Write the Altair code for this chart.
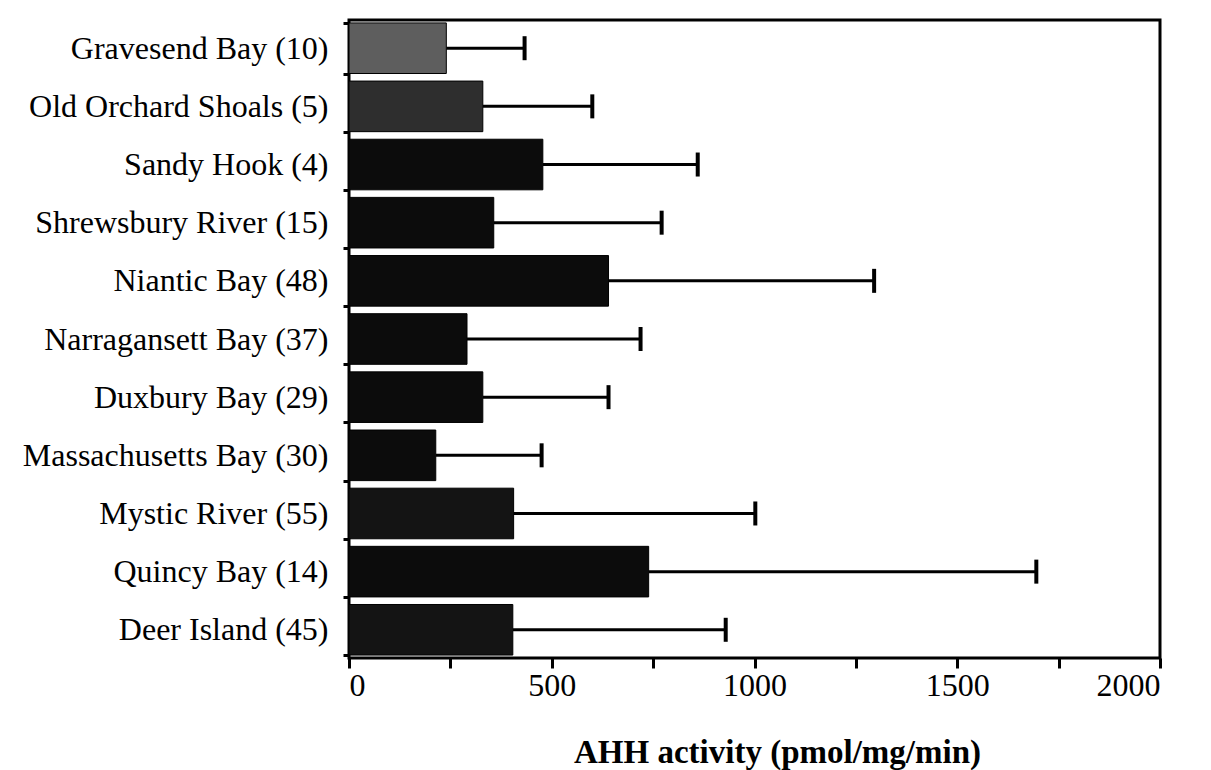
import altair as alt
import pandas as pd

sites = [
    "Gravesend Bay (10)",
    "Old Orchard Shoals (5)",
    "Sandy Hook (4)",
    "Shrewsbury River (15)",
    "Niantic Bay (48)",
    "Narragansett Bay (37)",
    "Duxbury Bay (29)",
    "Massachusetts Bay (30)",
    "Mystic River (55)",
    "Quincy Bay (14)",
    "Deer Island (45)",
]
means = [240, 330, 478, 357, 640, 291, 330, 214, 406, 739, 404]
upper = [433, 600, 860, 771, 1295, 719, 640, 475, 1002, 1695, 929]
shades = ["#5e5e5e", "#2e2e2e", "#0c0c0c", "#0c0c0c", "#0c0c0c", "#0c0c0c",
          "#0c0c0c", "#0c0c0c", "#141414", "#0c0c0c", "#141414"]
x_ticks = [0, 250, 500, 750, 1000, 1250, 1500, 1750, 2000]

df = pd.DataFrame({"site": sites, "mean": means, "upper": upper, "shade": shades})

FONT = "Liberation Serif"

x_axis = alt.Axis(
    values=x_ticks,
    labelExpr="datum.value % 500 == 0 ? datum.label : ''",
    format="d",
    title="AHH activity (pmol/mg/min)",
    titleFont=FONT,
    titleFontSize=33,
    titleFontWeight="bold",
    titleColor="black",
    titleX=428,
    titleY=104,
    titleBaseline="alphabetic",
    titleAlign="center",
    titleAnchor="start",
    tickSize=10,
    tickWidth=3,
    tickColor="black",
    domain=False,
    grid=False,
    labelFont=FONT,
    labelFontSize=32,
    labelColor="black",
    labelPadding=2,
)
x_scale = alt.Scale(domain=[0, 2000], nice=False, zero=True)

y_enc = alt.Y(
    "site:N",
    sort=sites,
    scale=alt.Scale(paddingInner=0.13, paddingOuter=0.05),
    axis=alt.Axis(
        title=None,
        labelFont=FONT,
        labelFontSize=32,
        labelColor="black",
        labelPadding=15,
        labelLimit=500,
        tickBand="extent",
        tickSize=6,
        tickWidth=3,
        tickColor="black",
        domain=False,
        grid=False,
    ),
)

rules = alt.Chart(df).mark_rule(strokeWidth=3, color="black").encode(
    x=alt.X("mean:Q", scale=x_scale, axis=x_axis),
    x2="upper:Q",
    y=y_enc,
)

bars = alt.Chart(df).mark_bar(stroke="black", strokeWidth=1).encode(
    x=alt.X("mean:Q", scale=x_scale, axis=x_axis),
    y=y_enc,
    color=alt.Color("shade:N", scale=None),
)

caps = alt.Chart(df).mark_tick(size=24, thickness=4, color="black", opacity=1).encode(
    x=alt.X("upper:Q", scale=x_scale, axis=x_axis),
    y=y_enc,
)

chart = (
    alt.layer(rules, bars, caps)
    .properties(
        width=811,
        height=638,
        padding={"left": 349, "top": 20, "right": 51, "bottom": 112},
        autosize=alt.AutoSizeParams(type="none"),
        background="white",
    )
    .configure_view(stroke="black", strokeWidth=3)
)

chart.save("out.html", embed_options={"renderer": "svg", "actions": False})
